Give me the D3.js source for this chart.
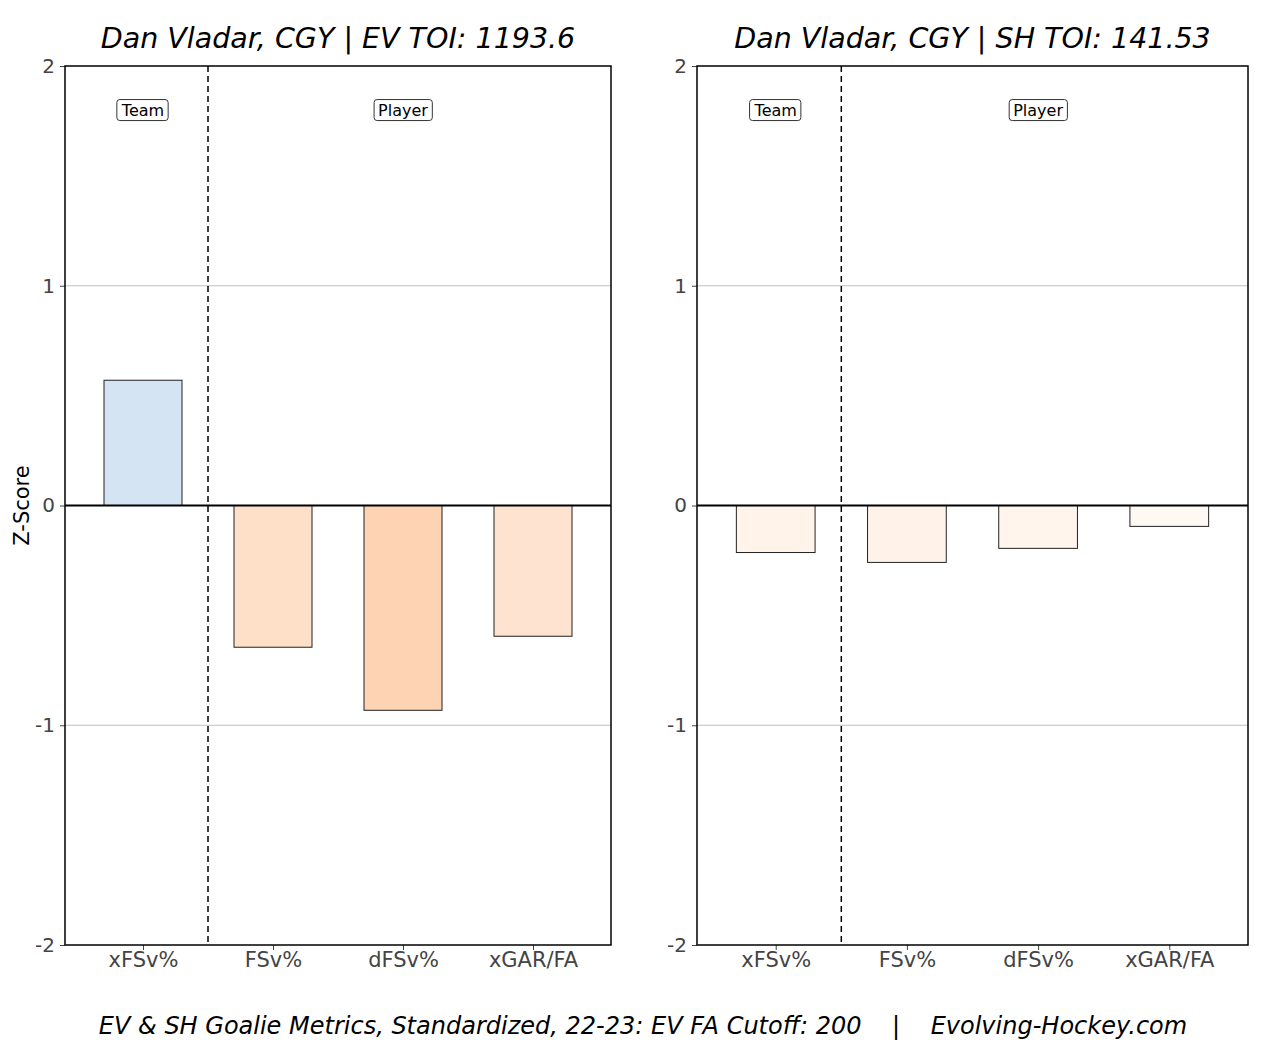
<!DOCTYPE html>
<html>
<head>
<meta charset="utf-8">
<script src="https://cdn.jsdelivr.net/npm/d3@7"></script>
<style>
  body { margin: 0; background: #fff; }
  text { font-family: "DejaVu Sans", sans-serif; }
</style>
</head>
<body>
<svg id="chart"></svg>
<script>
// data
const METRICS = ["xFSv%", "FSv%", "dFSv%", "xGAR/FA"];
const EV_VALUES = [0.57, -0.645, -0.932, -0.595];
const SH_VALUES = [-0.214, -0.259, -0.195, -0.095];
const Y_TICKS = [-2, -1, 0, 1, 2];
const TITLES = ["Dan Vladar, CGY | EV TOI: 1193.6", "Dan Vladar, CGY | SH TOI: 141.53"];
const CAPTION = "EV & SH Goalie Metrics, Standardized, 22-23: EV FA Cutoff: 200    |    Evolving-Hockey.com";

// fill colours of the bars (style, per panel)
const EV_FILLS = ["#d4e4f3", "#fee0c9", "#fdd3b4", "#fee4d0"];
const SH_FILLS = ["#fff3ea", "#fff2e8", "#fff5ed", "#fff9f4"];

const WIDTH = 1275;
const HEIGHT = 1050;
const PANELS = [
    {left: 65, right: 611, values: EV_VALUES, fills: EV_FILLS, title: TITLES[0]},
    {left: 697, right: 1248, values: SH_VALUES, fills: SH_FILLS, title: TITLES[1]},
];
const TOP = 66, BOTTOM = 945;

const svg = d3.select('#chart')
    .attr('width', WIDTH)
    .attr('height', HEIGHT);

PANELS.forEach(p => {
    const g = svg.append('g');

    const xScale = d3.scaleLinear().domain([-0.6, 3.6]).range([p.left, p.right]);
    const yScale = d3.scaleLinear().domain([-2, 2]).range([BOTTOM, TOP]);

    // grid lines at +-1
    g.selectAll('.grid')
        .data(Y_TICKS.filter(t => t !== 0 && Math.abs(t) !== 2))
        .enter()
        .append('line')
        .attr('x1', p.left).attr('x2', p.right)
        .attr('y1', d => yScale(d)).attr('y2', d => yScale(d))
        .attr('stroke', '#b0b0b0')
        .attr('stroke-width', 0.8);

    // bars
    const barW = 0.6;
    g.selectAll('.bar')
        .data(p.values)
        .enter()
        .append('rect')
        .attr('x', (d, i) => xScale(i - barW / 2))
        .attr('width', xScale(barW) - xScale(0))
        .attr('y', d => yScale(Math.max(d, 0)))
        .attr('height', d => Math.abs(yScale(d) - yScale(0)))
        .attr('fill', (d, i) => p.fills[i])
        .attr('stroke', '#222')
        .attr('stroke-width', 1);

    // zero line
    g.append('line')
        .attr('x1', p.left).attr('x2', p.right)
        .attr('y1', yScale(0)).attr('y2', yScale(0))
        .attr('stroke', '#000')
        .attr('stroke-width', 2);

    // team / player divider
    g.append('line')
        .attr('x1', xScale(0.5)).attr('x2', xScale(0.5))
        .attr('y1', TOP).attr('y2', BOTTOM)
        .attr('stroke', '#000')
        .attr('stroke-width', 1.5)
        .attr('stroke-dasharray', '6,4');

    // y axis
    g.append('g')
        .attr('transform', `translate(${p.left},0)`)
        .call(d3.axisLeft(yScale).tickValues(Y_TICKS).tickSize(5).tickPadding(5).tickFormat(d => String(d)))
        .call(a => a.select('.domain').remove())
        .call(a => a.selectAll('line').attr('stroke', '#444'))
        .call(a => a.selectAll('text').attr('fill', '#444').style('font-size', '20px').style('font-family', 'DejaVu Sans'));

    // x axis
    g.append('g')
        .attr('transform', `translate(0,${BOTTOM})`)
        .call(d3.axisBottom(xScale).tickValues(d3.range(METRICS.length)).tickSize(5).tickPadding(2).tickFormat(i => METRICS[i]))
        .call(a => a.select('.domain').remove())
        .call(a => a.selectAll('line').attr('stroke', '#444'))
        .call(a => a.selectAll('text').attr('fill', '#444').style('font-size', '21px').style('font-family', 'DejaVu Sans'));

    // frame
    g.append('rect')
        .attr('x', p.left).attr('y', TOP)
        .attr('width', p.right - p.left).attr('height', BOTTOM - TOP)
        .attr('fill', 'none')
        .attr('stroke', '#000')
        .attr('stroke-width', 1.5);

    // labels
    [{text: 'Team', x: 0}, {text: 'Player', x: 2}].forEach(l => {
        const lg = g.append('g').attr('transform', `translate(${xScale(l.x)},${yScale(1.8)})`);
        const t = lg.append('text')
            .text(l.text)
            .attr('text-anchor', 'middle')
            .attr('dy', '0.35em')
            .style('font-size', '16px')
            .attr('fill', '#000');
        const bb = t.node().getBBox();
        lg.insert('rect', 'text')
            .attr('x', bb.x - 4).attr('y', bb.y - 1)
            .attr('width', bb.width + 8).attr('height', bb.height + 2)
            .attr('rx', 3)
            .attr('fill', '#fff')
            .attr('stroke', '#333')
            .attr('stroke-width', 1);
    });

    // title
    svg.append('text')
        .text(p.title)
        .attr('x', (p.left + p.right) / 2)
        .attr('y', 48)
        .attr('text-anchor', 'middle')
        .style('font-size', '28.5px')
        .style('font-style', 'italic');
});

// y label
svg.append('text')
    .text('Z-Score')
    .attr('transform', `translate(29,${(TOP + BOTTOM) / 2}) rotate(-90)`)
    .attr('text-anchor', 'middle')
    .style('font-size', '21px');

// caption
svg.append('text')
    .text(CAPTION)
    .attr('x', 643)
    .attr('y', 1034)
    .attr('text-anchor', 'middle')
    .attr('xml:space', 'preserve')
    .style('white-space', 'pre')
    .style('font-size', '24px')
    .style('font-style', 'italic');
</script>
</body>
</html>
